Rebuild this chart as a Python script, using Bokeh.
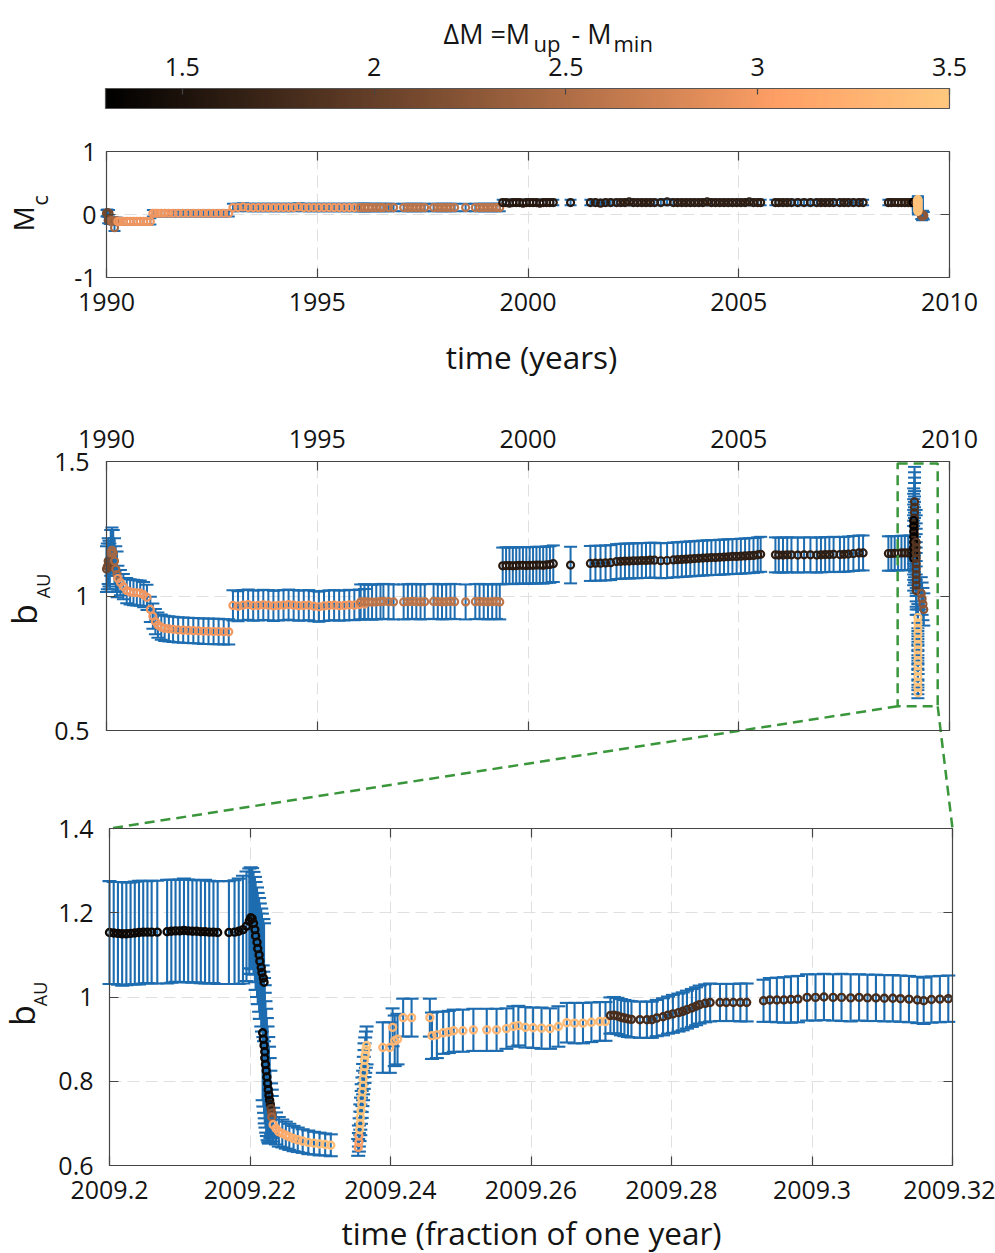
import numpy as np
from bokeh.plotting import figure
from bokeh.models import (ColumnDataSource, LinearColorMapper, LinearAxis, FixedTicker,
                          NumeralTickFormatter, Label, BoxAnnotation, Range1d, Grid)
from bokeh.transform import transform
from bokeh.embed import file_html
from bokeh.resources import INLINE

FONT = "Open Sans"
BLUE = "#1d6cb0"
GREEN = "#3a963a"
AXC = "#454545"
TXT = "#141414"
GRIDC = "#e0e0e0"

# ---------------- colour scale (Delta M) ----------------
DM_LOW, DM_HIGH = 1.3, 3.5
CB_TICKS = [1.5, 2, 2.5, 3, 3.5]

# ---------------- long record 1990-2009 (panels 1 & 2) ----------------
T_A1 = [1990.00, 1990.02, 1990.04, 1990.06, 1990.08]
B_A1 = [1.10, 1.11, 1.13, 1.12, 1.11]
MC_A1 = [0.02, 0.03, -0.09, 0.02, -0.10]

T_A2 = [1990.10, 1990.13, 1990.16, 1990.19, 1990.22, 1990.25]
B_A2 = [1.16, 1.17, 1.16, 1.13, 1.10, 1.08]
MC_A2 = [-0.10, -0.10, -0.10, -0.21, -0.10, -0.10]

T_B = [1990.27, 1990.33, 1990.40, 1990.48, 1990.56, 1990.64, 1990.72, 1990.80, 1990.88, 1990.96,
       1991.04, 1991.10, 1991.16, 1991.22, 1991.30, 1991.38, 1991.48, 1991.58, 1991.70, 1991.82,
       1991.94, 1992.06, 1992.18, 1992.30, 1992.42, 1992.54, 1992.66, 1992.78, 1992.90]
B_B = [1.065, 1.050, 1.035, 1.020, 1.015, 1.013, 1.012, 1.011, 1.005, 0.995,
       0.950, 0.925, 0.905, 0.892, 0.884, 0.880, 0.878, 0.876, 0.874, 0.873,
       0.872, 0.871, 0.870, 0.869, 0.869, 0.868, 0.868, 0.867, 0.867]
MC_B = [-0.11, -0.11, -0.11, -0.11, -0.11, -0.11, -0.11, -0.11, -0.11, -0.11,
        -0.11, 0.02, 0.02, 0.02, 0.02, 0.02, 0.02, 0.02, 0.02, 0.02,
        0.02, 0.02, 0.02, 0.02, 0.02, 0.02, 0.02, 0.02, 0.02]

T_C = [1993.00, 1993.12, 1993.24, 1993.36, 1993.48, 1993.60, 1993.72, 1993.84, 1993.96, 1994.08,
       1994.20, 1994.32, 1994.44, 1994.56, 1994.68, 1994.80, 1994.92, 1995.04, 1995.16, 1995.28,
       1995.40, 1995.52, 1995.64, 1995.76, 1995.88, 1996.00, 1996.12]
B_C = [0.965, 0.962, 0.966, 0.968, 0.964, 0.965, 0.967, 0.966, 0.963, 0.965,
       0.966, 0.968, 0.966, 0.964, 0.965, 0.966, 0.962, 0.960, 0.963, 0.965,
       0.966, 0.964, 0.965, 0.967, 0.966, 0.968, 0.970]
MC_C = [0.11, 0.11, 0.12, 0.11, 0.11, 0.11, 0.11, 0.11, 0.11, 0.11,
        0.11, 0.11, 0.11, 0.12, 0.11, 0.11, 0.11, 0.11, 0.11, 0.11,
        0.11, 0.11, 0.11, 0.11, 0.11, 0.11, 0.11]

T_D = [1996.03, 1996.12, 1996.21, 1996.30, 1996.40, 1996.50, 1996.57, 1996.69, 1996.81, 1997.05,
       1997.15, 1997.25, 1997.35, 1997.45, 1997.55, 1997.76, 1997.86, 1997.96, 1998.06, 1998.16,
       1998.26, 1998.52, 1998.75, 1998.85, 1998.95, 1999.05, 1999.15, 1999.25, 1999.33]
B_D = [0.978, 0.979, 0.978, 0.977, 0.978, 0.979, 0.980, 0.979, 0.978, 0.978,
       0.979, 0.980, 0.979, 0.978, 0.979, 0.980, 0.979, 0.978, 0.979, 0.980,
       0.979, 0.978, 0.979, 0.980, 0.979, 0.978, 0.979, 0.980, 0.978]
MC_D = [0.11, 0.11, 0.11, 0.11, 0.11, 0.11, 0.11, 0.11, 0.11, 0.11,
        0.11, 0.11, 0.11, 0.11, 0.11, 0.11, 0.11, 0.11, 0.11, 0.11,
        0.11, 0.11, 0.11, 0.11, 0.11, 0.11, 0.11, 0.11, 0.11]

T_E = [1999.40, 1999.48, 1999.56, 1999.64, 1999.72, 1999.80, 1999.88, 1999.96, 2000.04, 2000.12,
       2000.20, 2000.28, 2000.36, 2000.44, 2000.52, 2000.60, 2001.01]
B_E = [1.112, 1.113, 1.113, 1.112, 1.113, 1.114, 1.114, 1.113, 1.114, 1.114,
       1.115, 1.115, 1.114, 1.116, 1.117, 1.120, 1.115]
MC_E = [0.19, 0.19, 0.18, 0.19, 0.19, 0.19, 0.18, 0.19, 0.19, 0.19,
        0.19, 0.18, 0.19, 0.19, 0.19, 0.19, 0.19]

T_F = [2001.48, 2001.60, 2001.72, 2001.84, 2001.96, 2002.10, 2002.20, 2002.30, 2002.40, 2002.50,
       2002.60, 2002.70, 2002.80, 2002.90, 2003.00, 2003.15, 2003.30, 2003.45, 2003.55, 2003.65,
       2003.75, 2003.85, 2003.95, 2004.05, 2004.15, 2004.25, 2004.35, 2004.45, 2004.55, 2004.65,
       2004.75, 2004.85, 2004.95, 2005.05, 2005.15, 2005.25, 2005.35, 2005.45, 2005.52]
B_F = [1.121, 1.122, 1.122, 1.123, 1.124, 1.128, 1.129, 1.130, 1.130, 1.131,
       1.131, 1.132, 1.132, 1.133, 1.133, 1.131, 1.132, 1.134, 1.135, 1.136,
       1.137, 1.138, 1.139, 1.140, 1.141, 1.142, 1.143, 1.143, 1.144, 1.145,
       1.146, 1.147, 1.147, 1.148, 1.149, 1.150, 1.151, 1.153, 1.155]
MC_F = [0.19, 0.19, 0.18, 0.19, 0.19, 0.19, 0.19, 0.19, 0.20, 0.19,
        0.19, 0.19, 0.19, 0.19, 0.19, 0.19, 0.20, 0.19, 0.19, 0.19,
        0.19, 0.19, 0.19, 0.19, 0.19, 0.20, 0.19, 0.19, 0.19, 0.19,
        0.19, 0.19, 0.19, 0.19, 0.19, 0.20, 0.19, 0.19, 0.19]

T_G = [2005.87, 2005.95, 2006.05, 2006.15, 2006.25, 2006.40, 2006.55, 2006.70, 2006.85, 2006.95,
       2007.05, 2007.15, 2007.25, 2007.40, 2007.50, 2007.60, 2007.72, 2007.85, 2007.95]
B_G = [1.153, 1.152, 1.152, 1.153, 1.153, 1.152, 1.153, 1.153, 1.152, 1.153,
       1.154, 1.154, 1.155, 1.154, 1.155, 1.156, 1.158, 1.160, 1.160]
MC_G = [0.19, 0.19, 0.19, 0.19, 0.19, 0.19, 0.19, 0.19, 0.19, 0.19,
        0.19, 0.19, 0.19, 0.19, 0.19, 0.19, 0.19, 0.19, 0.19]

T_H = [2008.55, 2008.62, 2008.70, 2008.78, 2008.86, 2008.94, 2009.02, 2009.08]
B_H = [1.158, 1.158, 1.159, 1.159, 1.160, 1.160, 1.160, 1.161]
MC_H = [0.19, 0.19, 0.19, 0.19, 0.19, 0.19, 0.19, 0.19]

# one Delta M / error value per segment (A1, A2, B, C, D, E, F, G, H)
SEG_DM = [2.10, 2.45, 2.95, 2.96, 2.60, 1.58, 1.62, 1.62, 1.62]
SEG_BERR = [0.085, 0.085, 0.047, 0.056, 0.065, 0.068, 0.065, 0.065, 0.064]
SEG_MCERR = [0.05, 0.05, 0.05, 0.06, 0.06, 0.045, 0.045, 0.045, 0.045]

# cluster of 2009 events as seen at full-record scale
K_T = [2009.17, 2009.17, 2009.17, 2009.17, 2009.17, 2009.17, 2009.17, 2009.17, 2009.17, 2009.17,
       2009.15, 2009.15, 2009.15, 2009.15, 2009.15, 2009.15, 2009.15, 2009.15,
       2009.21, 2009.21, 2009.21, 2009.21, 2009.21, 2009.21, 2009.21, 2009.21, 2009.21, 2009.21,
       2009.33, 2009.35, 2009.37, 2009.39,
       2009.25, 2009.25, 2009.25, 2009.25, 2009.25, 2009.25, 2009.25, 2009.25, 2009.25, 2009.25,
       2009.25, 2009.25, 2009.25, 2009.25, 2009.25]
K_B = [1.35, 1.33, 1.31, 1.29, 1.27, 1.25, 1.23, 1.21, 1.19, 1.17,
       1.28, 1.26, 1.24, 1.22, 1.20, 1.18, 1.16, 1.14,
       1.20, 1.18, 1.16, 1.14, 1.12, 1.10, 1.08, 1.06, 1.04, 1.02,
       1.01, 0.99, 0.97, 0.95,
       0.92, 0.90, 0.88, 0.86, 0.84, 0.82, 0.80, 0.78, 0.76, 0.74,
       0.72, 0.70, 0.68, 0.66, 0.64]
K_BERR = [0.13, 0.13, 0.13, 0.13, 0.12, 0.12, 0.12, 0.12, 0.12, 0.12,
          0.12, 0.12, 0.12, 0.12, 0.12, 0.12, 0.12, 0.12,
          0.12, 0.12, 0.11, 0.11, 0.11, 0.10, 0.10, 0.10, 0.09, 0.09,
          0.06, 0.06, 0.06, 0.06,
          0.05, 0.05, 0.05, 0.04, 0.04, 0.04, 0.04, 0.035, 0.035, 0.03,
          0.03, 0.03, 0.03, 0.025, 0.02]
K_DM = [1.80, 1.80, 1.80, 1.80, 1.80, 1.80, 1.80, 1.80, 1.80, 1.80,
        1.35, 1.35, 1.35, 1.35, 1.35, 1.35, 1.35, 1.35,
        1.90, 1.90, 1.90, 1.90, 1.90, 1.90, 1.90, 1.90, 1.90, 1.90,
        2.27, 2.27, 2.27, 2.27,
        3.45, 3.45, 3.45, 3.45, 3.45, 3.45, 3.45, 3.45, 3.45, 3.45,
        3.45, 3.45, 3.45, 3.45, 3.45]
K_MC = [0.19, 0.19, 0.19, 0.19, 0.19, 0.19, 0.19, 0.19, 0.19, 0.19,
        0.19, 0.19, 0.19, 0.19, 0.19, 0.19, 0.19, 0.19,
        0.19, 0.19, 0.19, 0.19, 0.19, 0.19, 0.19, 0.19, 0.19, 0.19,
        -0.01, -0.03, 0.00, -0.02,
        0.24, 0.23, 0.22, 0.21, 0.20, 0.18, 0.17, 0.16, 0.14, 0.13,
        0.12, 0.10, 0.08, 0.07, 0.05]
K_MCERR = [0.04, 0.04, 0.04, 0.04, 0.04, 0.04, 0.04, 0.04, 0.04, 0.04,
           0.04, 0.04, 0.04, 0.04, 0.04, 0.04, 0.04, 0.04,
           0.04, 0.04, 0.04, 0.04, 0.04, 0.04, 0.04, 0.04, 0.04, 0.04,
           0.06, 0.06, 0.06, 0.06,
           0.05, 0.05, 0.05, 0.05, 0.05, 0.05, 0.05, 0.05, 0.05, 0.05,
           0.05, 0.05, 0.05, 0.05, 0.05]

# ---------------- zoom 2009.20-2009.32 (panel 3) ----------------
Z_T = [2009.2000, 2009.2006, 2009.2012, 2009.2018, 2009.2024, 2009.2030, 2009.2036, 2009.2042, 2009.2048, 2009.2054,
       2009.2060, 2009.2068, 2009.2082, 2009.2088, 2009.2094, 2009.2100, 2009.2106, 2009.2112, 2009.2118, 2009.2124,
       2009.2130, 2009.2136, 2009.2142, 2009.2148, 2009.2154, 2009.2170, 2009.2178, 2009.2184, 2009.2190, 2009.2195,
       2009.2199, 2009.2201, 2009.2203, 2009.2205, 2009.2207, 2009.2208, 2009.2210, 2009.2211, 2009.2213, 2009.2214,
       2009.2216, 2009.2217, 2009.2219, 2009.2220,
       2009.2218, 2009.2219, 2009.2220, 2009.2221, 2009.2221, 2009.2222, 2009.2223, 2009.2224, 2009.2225, 2009.2226,
       2009.2227, 2009.2228, 2009.2229, 2009.2230, 2009.2231, 2009.2231,
       2009.2233, 2009.2237, 2009.2241, 2009.2246, 2009.2251, 2009.2256, 2009.2262, 2009.2268, 2009.2275, 2009.2283,
       2009.2291, 2009.2299, 2009.2307, 2009.2315,
       2009.2354, 2009.2355, 2009.2355, 2009.2356, 2009.2357, 2009.2357, 2009.2358, 2009.2359, 2009.2359, 2009.2360,
       2009.2361, 2009.2361, 2009.2362, 2009.2363, 2009.2363, 2009.2364, 2009.2365, 2009.2366,
       2009.2389, 2009.2399, 2009.2403, 2009.2406, 2009.2410, 2009.2418, 2009.2430, 2009.2456, 2009.2459, 2009.2466,
       2009.2475, 2009.2483, 2009.2490, 2009.2503, 2009.2518, 2009.2537, 2009.2551,
       2009.2565, 2009.2575, 2009.2582, 2009.2592, 2009.2603, 2009.2615, 2009.2627, 2009.2639, 2009.2651, 2009.2662,
       2009.2674, 2009.2686, 2009.2698, 2009.2706,
       2009.2713, 2009.2718, 2009.2723, 2009.2728, 2009.2733, 2009.2738, 2009.2743, 2009.2755, 2009.2765, 2009.2772,
       2009.2779, 2009.2788, 2009.2795, 2009.2802, 2009.2810, 2009.2816, 2009.2822, 2009.2829, 2009.2835, 2009.2840,
       2009.2848, 2009.2855,
       2009.2869, 2009.2878, 2009.2888, 2009.2898, 2009.2907, 2009.2931, 2009.2940, 2009.2950, 2009.2960, 2009.2970,
       2009.2980, 2009.2993, 2009.3005, 2009.3017, 2009.3030, 2009.3042, 2009.3055, 2009.3067, 2009.3079, 2009.3091,
       2009.3103, 2009.3115, 2009.3126, 2009.3138, 2009.3150, 2009.3159, 2009.3170, 2009.3182, 2009.3194]
Z_B = [1.153, 1.152, 1.151, 1.150, 1.150, 1.151, 1.152, 1.153, 1.154, 1.154,
       1.154, 1.154, 1.155, 1.156, 1.157, 1.157, 1.158, 1.157, 1.156, 1.156,
       1.155, 1.155, 1.154, 1.154, 1.153, 1.153, 1.154, 1.156, 1.160, 1.168,
       1.180, 1.188, 1.186, 1.175, 1.160, 1.145, 1.130, 1.115, 1.100, 1.085,
       1.070, 1.058, 1.045, 1.035,
       0.915, 0.900, 0.885, 0.870, 0.855, 0.840, 0.825, 0.810, 0.795, 0.780,
       0.767, 0.755, 0.745, 0.735, 0.725, 0.715,
       0.697, 0.688, 0.680, 0.676, 0.672, 0.668, 0.664, 0.661, 0.658, 0.655,
       0.653, 0.651, 0.650, 0.648,
       0.643, 0.655, 0.670, 0.685, 0.700, 0.715, 0.730, 0.745, 0.760, 0.775,
       0.790, 0.805, 0.820, 0.835, 0.850, 0.862, 0.875, 0.885,
       0.880, 0.880, 0.928, 0.896, 0.900, 0.951, 0.951, 0.951, 0.908, 0.910,
       0.915, 0.917, 0.920, 0.920, 0.922, 0.922, 0.922,
       0.925, 0.930, 0.932, 0.928, 0.927, 0.926, 0.925, 0.930, 0.939, 0.938,
       0.938, 0.940, 0.942, 0.942,
       0.956, 0.957, 0.955, 0.952, 0.950, 0.948, 0.947, 0.946, 0.946, 0.946,
       0.950, 0.953, 0.957, 0.960, 0.963, 0.966, 0.970, 0.974, 0.978, 0.982,
       0.985, 0.987,
       0.987, 0.987, 0.987, 0.987, 0.987, 0.991, 0.993, 0.993, 0.993, 0.994,
       0.995, 0.999, 0.999, 1.000, 0.999, 0.999, 0.998, 0.999, 0.998, 0.998,
       0.997, 0.997, 0.996, 0.995, 0.993, 0.991, 0.994, 0.995, 0.996]
Z_ERR = [0.122, 0.121, 0.122, 0.123, 0.122, 0.121, 0.122, 0.123, 0.122, 0.121,
         0.122, 0.122, 0.123, 0.122, 0.121, 0.122, 0.123, 0.122, 0.122, 0.121,
         0.122, 0.123, 0.122, 0.121, 0.122, 0.122, 0.123, 0.125, 0.128, 0.130,
         0.125, 0.120, 0.120, 0.122, 0.125, 0.128, 0.130, 0.132, 0.135, 0.137,
         0.140, 0.140, 0.140, 0.140,
         0.160, 0.160, 0.160, 0.158, 0.155, 0.150, 0.147, 0.140, 0.135, 0.125,
         0.115, 0.100, 0.080, 0.060, 0.055, 0.050,
         0.040, 0.038, 0.035, 0.033, 0.032, 0.031, 0.030, 0.029, 0.028, 0.028,
         0.027, 0.027, 0.026, 0.026,
         0.020, 0.022, 0.025, 0.027, 0.028, 0.030, 0.031, 0.032, 0.033, 0.034,
         0.035, 0.036, 0.038, 0.039, 0.040, 0.042, 0.043, 0.045,
         0.060, 0.060, 0.045, 0.060, 0.060, 0.045, 0.045, 0.045, 0.055, 0.055,
         0.050, 0.050, 0.050, 0.050, 0.050, 0.050, 0.050,
         0.048, 0.048, 0.047, 0.048, 0.048, 0.049, 0.048, 0.048, 0.047, 0.048,
         0.048, 0.047, 0.046, 0.046,
         0.043, 0.043, 0.043, 0.043, 0.043, 0.043, 0.043, 0.043, 0.043, 0.043,
         0.043, 0.044, 0.044, 0.045, 0.045, 0.045, 0.045, 0.045, 0.045, 0.045,
         0.045, 0.045,
         0.044, 0.044, 0.044, 0.045, 0.045, 0.050, 0.052, 0.053, 0.054, 0.055,
         0.055, 0.055, 0.055, 0.055, 0.055, 0.056, 0.056, 0.055, 0.055, 0.055,
         0.055, 0.055, 0.055, 0.055, 0.055, 0.055, 0.055, 0.055, 0.055]
Z_DM = [1.40, 1.40, 1.40, 1.40, 1.40, 1.40, 1.40, 1.40, 1.40, 1.40,
        1.40, 1.40, 1.40, 1.40, 1.40, 1.40, 1.40, 1.40, 1.40, 1.40,
        1.40, 1.40, 1.40, 1.40, 1.40, 1.40, 1.40, 1.40, 1.40, 1.40,
        1.40, 1.40, 1.40, 1.40, 1.40, 1.40, 1.40, 1.40, 1.40, 1.40,
        1.40, 1.40, 1.40, 1.40,
        1.38, 1.38, 1.38, 1.38, 1.38, 1.38, 1.38, 1.38, 1.38, 1.38,
        1.38, 1.38, 1.55, 2.00, 2.20, 2.40,
        3.15, 3.15, 3.15, 3.15, 3.20, 3.20, 3.25, 3.25, 3.30, 3.35,
        3.35, 3.40, 3.40, 3.40,
        3.00, 3.05, 3.10, 3.47, 3.47, 3.47, 3.47, 3.47, 3.47, 3.47,
        3.47, 3.47, 3.47, 3.47, 3.47, 3.47, 3.47, 3.47,
        3.30, 3.30, 3.30, 3.30, 3.30, 3.30, 3.30, 3.30, 3.30, 3.30,
        3.30, 3.30, 3.30, 3.30, 3.30, 3.30, 3.30,
        3.35, 3.35, 3.35, 3.35, 3.35, 3.35, 3.35, 3.35, 3.35, 3.35,
        3.35, 3.35, 3.35, 3.35,
        1.80, 1.80, 1.80, 1.80, 1.80, 1.80, 1.80, 1.80, 1.80, 1.80,
        1.80, 1.80, 1.80, 1.80, 1.80, 1.80, 1.80, 1.80, 1.80, 1.80,
        1.80, 1.80,
        1.80, 1.80, 1.80, 1.80, 1.80, 1.80, 1.80, 1.80, 1.80, 1.80,
        1.80, 1.80, 1.80, 1.80, 1.80, 1.80, 1.80, 1.80, 1.80, 1.80,
        1.80, 1.80, 1.80, 1.80, 1.80, 1.80, 1.80, 1.80, 1.80]

# ---------------- ticks ----------------
YEAR_TICKS = [1990, 1995, 2000, 2005, 2010]
MC_TICKS = [-1, 0, 1]
B_TICKS = [0.5, 1, 1.5]
ZX_TICKS = [2009.2, 2009.22, 2009.24, 2009.26, 2009.28, 2009.3, 2009.32]
ZY_TICKS = [0.6, 0.8, 1.0, 1.2, 1.4]
ZOOM_BOX = dict(left=2008.77, right=2009.72, bottom=0.59, top=1.493)

# ---------------- layout (page pixels) ----------------
PAGE_W, PAGE_H = 995, 1253
PANELS = {
    "cb": dict(frame=(105, 88, 844, 20), xr=(DM_LOW, DM_HIGH), yr=(0, 1)),
    "p1": dict(frame=(106, 151, 843, 126), xr=(1990, 2010), yr=(-1, 1)),
    "p2": dict(frame=(106, 461, 843, 269), xr=(1990, 2010), yr=(0.5, 1.5)),
    "p3": dict(frame=(109, 828, 843, 337), xr=(2009.2, 2009.32), yr=(0.6, 1.4)),
}


def copper(n=256):
    out = []
    for i in range(n):
        f = i / (n - 1)
        r, g, b = min(1.0, 1.25 * f), 0.7812 * f, 0.4975 * f
        out.append("#%02x%02x%02x" % (round(r * 255), round(g * 255), round(b * 255)))
    return out


mapper = LinearColorMapper(palette=copper(), low=DM_LOW, high=DM_HIGH)


def to_page(name, x, y):
    left, top, w, h = PANELS[name]["frame"]
    (x0, x1), (y0, y1) = PANELS[name]["xr"], PANELS[name]["yr"]
    return left + (x - x0) / (x1 - x0) * w, top + (y1 - y) / (y1 - y0) * h


# each panel gets its own pair of ranges, mapped onto the page-sized frame
extra_x, extra_y = {}, {}
for name, spec in PANELS.items():
    left, top, w, h = spec["frame"]
    (x0, x1), (y0, y1) = spec["xr"], spec["yr"]
    sx, sy = (x1 - x0) / w, (y1 - y0) / h
    extra_x[name] = Range1d(x0 - left * sx, x0 + (PAGE_W - left) * sx)
    extra_y[name] = Range1d(y1 - (PAGE_H - top) * sy, y1 + top * sy)

fig = figure(width=PAGE_W, height=PAGE_H, x_range=Range1d(0, PAGE_W), y_range=Range1d(PAGE_H, 0),
             extra_x_ranges=extra_x, extra_y_ranges=extra_y, min_border=0,
             x_axis_location=None, y_axis_location=None, toolbar_location=None,
             output_backend="svg", background_fill_color="white", border_fill_color="white",
             outline_line_color=None)
fig.center = []


def add_axis(side, name, ticks, fmt, loc, show=True, standoff=10, size="25px", tick_in=9):
    ax = LinearAxis(x_range_name=name, y_range_name=name, fixed_location=loc,
                    ticker=FixedTicker(ticks=ticks), formatter=NumeralTickFormatter(format=fmt),
                    major_tick_in=tick_in, major_tick_out=0, minor_tick_line_color=None,
                    axis_line_color=None, major_tick_line_color=AXC, major_tick_line_width=1.2,
                    major_label_standoff=standoff, major_label_text_font=FONT,
                    major_label_text_font_size=size, major_label_text_color=TXT)
    if not show:
        ax.major_label_text_font_size = "1px"
        ax.major_label_text_color = None
        ax.major_label_standoff = 0
    fig.add_layout(ax, side)


def add_grid(name, xticks, yticks):
    (x0, x1), (y0, y1) = PANELS[name]["xr"], PANELS[name]["yr"]
    style = dict(line_color=GRIDC, line_dash="12 6", line_width=1)
    if "cross_bounds" in Grid.properties():
        for dim, ticks, b, cb in ((0, xticks, (x0, x1), (y0, y1)), (1, yticks, (y0, y1), (x0, x1))):
            fig.add_layout(Grid(dimension=dim, ticker=FixedTicker(ticks=ticks), bounds=b, cross_bounds=cb,
                                x_range_name=name, y_range_name=name, grid_line_color=GRIDC,
                                grid_line_dash="12 6", grid_line_width=1))
    else:
        fig.segment(xticks, [y0] * len(xticks), xticks, [y1] * len(xticks),
                    x_range_name=name, y_range_name=name, level="underlay", **style)
        fig.segment([x0] * len(yticks), yticks, [x1] * len(yticks), yticks,
                    x_range_name=name, y_range_name=name, level="underlay", **style)


def add_box(name, color=AXC, width=1.2, dash="solid", bounds=None):
    (x0, x1), (y0, y1) = PANELS[name]["xr"], PANELS[name]["yr"]
    if bounds is not None:
        x0, x1, y0, y1 = bounds
    fig.add_layout(BoxAnnotation(left=x0, right=x1, bottom=y0, top=y1, x_range_name=name, y_range_name=name,
                                 fill_color=None, fill_alpha=0, line_color=color, line_alpha=1,
                                 line_width=width, line_dash=dash))


def errbars(name, t, y, e, cap, lw=2.0):
    src = ColumnDataSource(dict(t=list(t), lo=[a - b for a, b in zip(y, e)],
                                hi=[a + b for a, b in zip(y, e)]))
    kw = dict(source=src, line_color=BLUE, line_width=lw, x_range_name=name, y_range_name=name)
    fig.segment("t", "lo", "t", "hi", **kw)
    fig.scatter("t", "lo", marker="dash", size=cap, **kw)
    fig.scatter("t", "hi", marker="dash", size=cap, **kw)


def points(name, t, y, dm, size=7.0, lw=2.2):
    src = ColumnDataSource(dict(t=list(t), y=list(y), dm=list(dm)))
    fig.scatter("t", "y", source=src, marker="circle", size=size, fill_color=None,
                line_color=transform("dm", mapper), line_width=lw, x_range_name=name, y_range_name=name)


def page_label(px, py, text, size, align="left", rotated=False):
    """(px, py) is the text's baseline point on the page; the label is anchored at its middle."""
    shift = 0.39 * size
    if rotated:
        x, y, angle = px - shift, py, np.pi / 2
    else:
        x, y, angle = px, py - shift, 0.0
    fig.add_layout(Label(x=x, y=y, text=text, angle=angle, text_align=align, text_baseline="middle",
                         text_font=FONT, text_font_size=f"{size}px", text_color=TXT))


# ---------------- build the long-record table ----------------
seg_t = [T_A1, T_A2, T_B, T_C, T_D, T_E, T_F, T_G, T_H]
seg_b = [B_A1, B_A2, B_B, B_C, B_D, B_E, B_F, B_G, B_H]
seg_mc = [MC_A1, MC_A2, MC_B, MC_C, MC_D, MC_E, MC_F, MC_G, MC_H]
L_T, L_B, L_MC, L_DM, L_BE, L_ME = [], [], [], [], [], []
for ts, bs, ms, dm, be, me in zip(seg_t, seg_b, seg_mc, SEG_DM, SEG_BERR, SEG_MCERR):
    L_T += ts
    L_B += bs
    L_MC += ms
    L_DM += [dm] * len(ts)
    L_BE += [be] * len(ts)
    L_ME += [me] * len(ts)
L_T += K_T
L_B += K_B
L_MC += K_MC
L_DM += K_DM
L_BE += K_BERR
L_ME += K_MCERR

# ---------------- colour bar ----------------
grad = np.linspace(DM_LOW, DM_HIGH, 256).reshape(1, -1)
fig.image(image=[grad], x=DM_LOW, y=0, dw=DM_HIGH - DM_LOW, dh=1, color_mapper=mapper,
          x_range_name="cb", y_range_name="cb")
add_box("cb", color="#555555")
add_axis("above", "cb", CB_TICKS, "0.[0]", 1, standoff=13, tick_in=6)
page_label(443, 44, "\u0394M =M", 27)
page_label(533, 51, "up", 22)
page_label(571, 44, "- M", 27)
page_label(613, 51, "min", 22)

# ---------------- panel 1: M_c ----------------
add_grid("p1", YEAR_TICKS, MC_TICKS)
errbars("p1", L_T, L_MC, L_ME, 12)
points("p1", L_T, L_MC, L_DM)
add_box("p1")
add_axis("below", "p1", YEAR_TICKS, "0", -1, standoff=15)
add_axis("left", "p1", MC_TICKS, "0", 1990, standoff=10)
add_axis("above", "p1", YEAR_TICKS, "0", 1, show=False)
add_axis("right", "p1", MC_TICKS, "0", 2010, show=False)
page_label(33, 218.5, "M", 28, align="center", rotated=True)
page_label(47, 200, "c", 22, align="center", rotated=True)
page_label(531, 368, "time (years)", 31.5, align="center")

# ---------------- panel 2: b (full record) ----------------
add_grid("p2", YEAR_TICKS, B_TICKS)
errbars("p2", L_T, L_B, L_BE, 13)
points("p2", L_T, L_B, L_DM)
add_box("p2")
add_axis("above", "p2", YEAR_TICKS, "0", 1.5, standoff=14)
add_axis("left", "p2", B_TICKS, "0.[0]", 1990, standoff=17)
add_axis("below", "p2", YEAR_TICKS, "0", 0.5, show=False)
add_axis("right", "p2", B_TICKS, "0.[0]", 2010, show=False)
page_label(37, 614, "b", 34, align="center", rotated=True)
page_label(50, 585.5, "AU", 18, align="center", rotated=True)
add_box("p2", color=GREEN, width=2.5, dash="10 6",
        bounds=(ZOOM_BOX["left"], ZOOM_BOX["right"], ZOOM_BOX["bottom"], ZOOM_BOX["top"]))

# ---------------- panel 3: b (zoom) ----------------
add_grid("p3", ZX_TICKS, ZY_TICKS)
errbars("p3", Z_T, Z_B, Z_ERR, 14, lw=2.1)
points("p3", Z_T, Z_B, Z_DM, size=7.0, lw=2.4)
add_box("p3")
add_axis("below", "p3", ZX_TICKS, "0.[00]", 0.6, standoff=15)
add_axis("left", "p3", ZY_TICKS, "0.[0]", 2009.2, standoff=16)
add_axis("above", "p3", ZX_TICKS, "0.[00]", 1.4, show=False)
add_axis("right", "p3", ZY_TICKS, "0.[0]", 2009.32, show=False)
page_label(35, 1015, "b", 34, align="center", rotated=True)
page_label(47, 993.5, "AU", 18, align="center", rotated=True)
page_label(531, 1244, "time (fraction of one year)", 31.5, align="center")

# ---------------- dashed connectors: zoom box corners -> panel 3 top corners ----------------
c_from = [to_page("p2", ZOOM_BOX["left"], ZOOM_BOX["bottom"]), to_page("p2", ZOOM_BOX["right"], ZOOM_BOX["bottom"])]
c_to = [to_page("p3", PANELS["p3"]["xr"][0], PANELS["p3"]["yr"][1]),
        to_page("p3", PANELS["p3"]["xr"][1], PANELS["p3"]["yr"][1])]
fig.segment([a[0] for a in c_from], [a[1] for a in c_from], [b[0] for b in c_to], [b[1] for b in c_to],
            line_color=GREEN, line_width=2.5, line_dash="10 6")

open("out.html", "w").write(file_html(fig, INLINE))
